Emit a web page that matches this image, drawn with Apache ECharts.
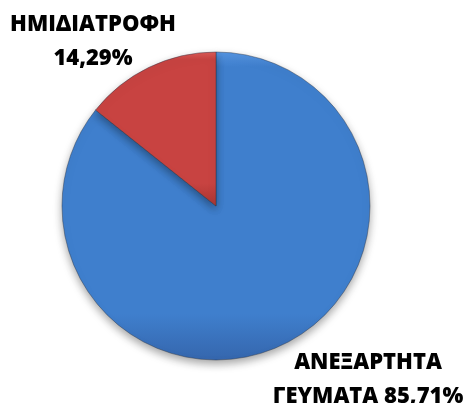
<!DOCTYPE html>
<html>
<head>
<meta charset="utf-8">
<script src="https://cdn.jsdelivr.net/npm/echarts@6/dist/echarts.min.js"></script>
<style>
  html, body { margin: 0; padding: 0; background: #ffffff; }
  #chart { width: 464px; height: 403px; }
</style>
</head>
<body>
<div id="chart"></div>
<script>
// Meal type shares (%)
const categories = ['ΑΝΕΞΑΡΤΗΤΑ ΓΕΥΜΑΤΑ', 'ΗΜΙΔΙΑΤΡΟΦΗ'];
const values = [85.71, 14.29];

const sliceColors = [
  { top: '#5595e2', mid: '#3f7fcd', bottom: '#3566ad' },
  { top: '#dc5a57', mid: '#c84341', bottom: '#a93532' }
];
// Label anchor points (block centres) for each slice
const labelAnchors = [
  { x: 368, y: 380 },
  { x: 93, y: 42 }
];

function fmtPct(v) {
  return v.toFixed(2).replace('.', ',') + '%';
}
function labelText(name, v) {
  const i = name.indexOf(' ');
  if (i > 0) return name.slice(0, i) + '\n' + name.slice(i + 1) + ' ' + fmtPct(v);
  return name + '\n' + fmtPct(v);
}

const chart = echarts.init(document.getElementById('chart'), null, { renderer: 'canvas' });

const data = categories.map((name, i) => ({
  name: name,
  value: values[i],
  itemStyle: {
    color: new echarts.graphic.LinearGradient(0, 0, 0, 1, [
      { offset: 0, color: sliceColors[i].top },
      { offset: 0.05, color: sliceColors[i].mid },
      { offset: 0.85, color: sliceColors[i].mid },
      { offset: 1, color: sliceColors[i].bottom }
    ])
  }
}));

chart.setOption({
  animation: false,
  backgroundColor: '#ffffff',
  series: [{
    type: 'pie',
    center: [216, 206],
    radius: [0, 154],
    startAngle: 90,
    clockwise: true,
    data: data,
    itemStyle: {
      borderColor: 'rgba(40,50,70,0.55)',
      borderWidth: 0.8,
      shadowColor: 'rgba(0,0,0,0.35)',
      shadowBlur: 8,
      shadowOffsetY: 4
    },
    label: {
      show: true,
      position: 'outside',
      formatter: p => labelText(p.name, p.value),
      fontFamily: 'Open Sans',
      fontWeight: 800,
      fontSize: 22,
      lineHeight: 34,
      color: '#000000',
      align: 'center',
      overflow: 'none'
    },
    labelLine: { show: false },
    labelLayout: function (params) {
      const a = labelAnchors[params.dataIndex];
      return { x: a.x, y: a.y, align: 'center', verticalAlign: 'middle' };
    },
    emphasis: { disabled: true }
  }]
});
</script>
</body>
</html>
